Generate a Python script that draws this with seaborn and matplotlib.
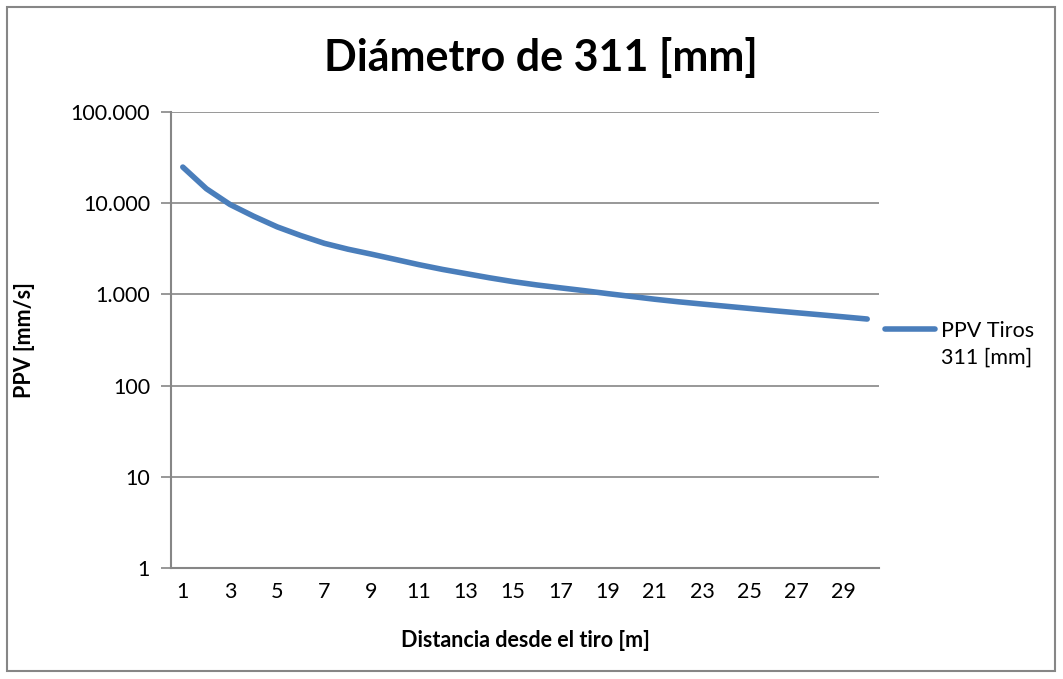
import matplotlib
matplotlib.use("Agg")
import matplotlib.pyplot as plt
import matplotlib.ticker as mticker
from matplotlib.patches import Rectangle
from matplotlib.legend_handler import HandlerLine2D
import seaborn as sns
import pandas as pd

distance = list(range(1, 31))
ppv = [24900, 14400, 9680, 7200, 5500, 4420, 3630, 3130, 2760, 2420,
       2120, 1880, 1690, 1520, 1380, 1270, 1180, 1100, 1020, 950,
       885, 830, 784, 742, 702, 664, 630, 598, 567, 537]
series_name = "PPV Tiros\n311 [mm]"
title = "Diámetro de 311 [mm]"
xlabel = "Distancia desde el tiro [m]"
ylabel = "PPV [mm/s]"
ytick_vals = [1, 10, 100, 1000, 10000, 100000]
ytick_labels = ["1", "10", "100", "1.000", "10.000", "100.000"]

sns.set_theme(style="white")
plt.rcParams["font.family"] = ["Lato", "DejaVu Sans"]
plt.rcParams["text.color"] = "black"
plt.rcParams["axes.labelcolor"] = "black"

df = pd.DataFrame({"x": [d - 1 for d in distance], "PPV": ppv})

fig = plt.figure(figsize=(10.63, 6.79), dpi=100)
ax = fig.add_axes([171 / 1063, 1 - 568 / 679, (879 - 171) / 1063, (568 - 112) / 679])

grid_c = "#868686"
sns.lineplot(data=df, x="x", y="PPV", ax=ax, color="#4a7ebb", linewidth=4,
             solid_capstyle="round", label=series_name, legend=False)
ax.set_yscale("log")
ax.set_ylim(1, 100000)
ax.set_xlim(-0.5, 29.5)

ax.set_yticks(ytick_vals)
ax.set_yticklabels(ytick_labels)
ax.yaxis.set_minor_locator(mticker.NullLocator())
ax.grid(axis="y", color=grid_c, linewidth=1.2)
ax.set_axisbelow(True)

ax.set_xticks([d - 1 for d in distance if d % 2 == 1])
ax.set_xticklabels([str(d) for d in distance if d % 2 == 1])
ax.set_xticks([-0.5 + 2 * i for i in range(16)], minor=True)
ax.tick_params(axis="x", which="major", length=0, labelsize=15.5, pad=10, colors="black")
ax.tick_params(axis="x", which="minor", length=7, width=1.2, color=grid_c, direction="out")
ax.tick_params(axis="y", which="major", length=7, width=1.2, color=grid_c, labelsize=15.5, pad=8, left=True)
for lab in ax.get_xticklabels() + ax.get_yticklabels():
    lab.set_color("black")

for s in ["top", "right"]:
    ax.spines[s].set_visible(False)
for s in ["left", "bottom"]:
    ax.spines[s].set_color(grid_c)
    ax.spines[s].set_linewidth(1.5)

ax.set_xlabel(xlabel, fontsize=15.5, fontweight="bold", labelpad=20)
ax.set_ylabel(ylabel, fontsize=15.5, fontweight="bold", labelpad=26)

fig.text(541 / 1063, 1 - 58 / 679, title, fontsize=31, fontweight="bold",
         ha="center", va="center", color="black")


class TopLineHandler(HandlerLine2D):
    def create_artists(self, legend, orig_handle, xdescent, ydescent,
                       width, height, fontsize, trans):
        shift = fontsize * 1.45
        return super().create_artists(legend, orig_handle, xdescent,
                                      ydescent - shift, width, height,
                                      fontsize, trans)


leg = ax.legend(loc="center left", bbox_to_anchor=(1.0, 0.49), frameon=False,
                fontsize=15.5, handlelength=2.3, handletextpad=0.3,
                borderaxespad=0.3, borderpad=0,
                handler_map={matplotlib.lines.Line2D: TopLineHandler()})
for t in leg.get_texts():
    t.set_linespacing(1.45)

fig.patches.append(Rectangle((7 / 1063, 8 / 679), 1048 / 1063, 664 / 679,
                             transform=fig.transFigure, fill=False,
                             edgecolor=grid_c, linewidth=1.5))

fig.savefig("out.png", dpi=100)
